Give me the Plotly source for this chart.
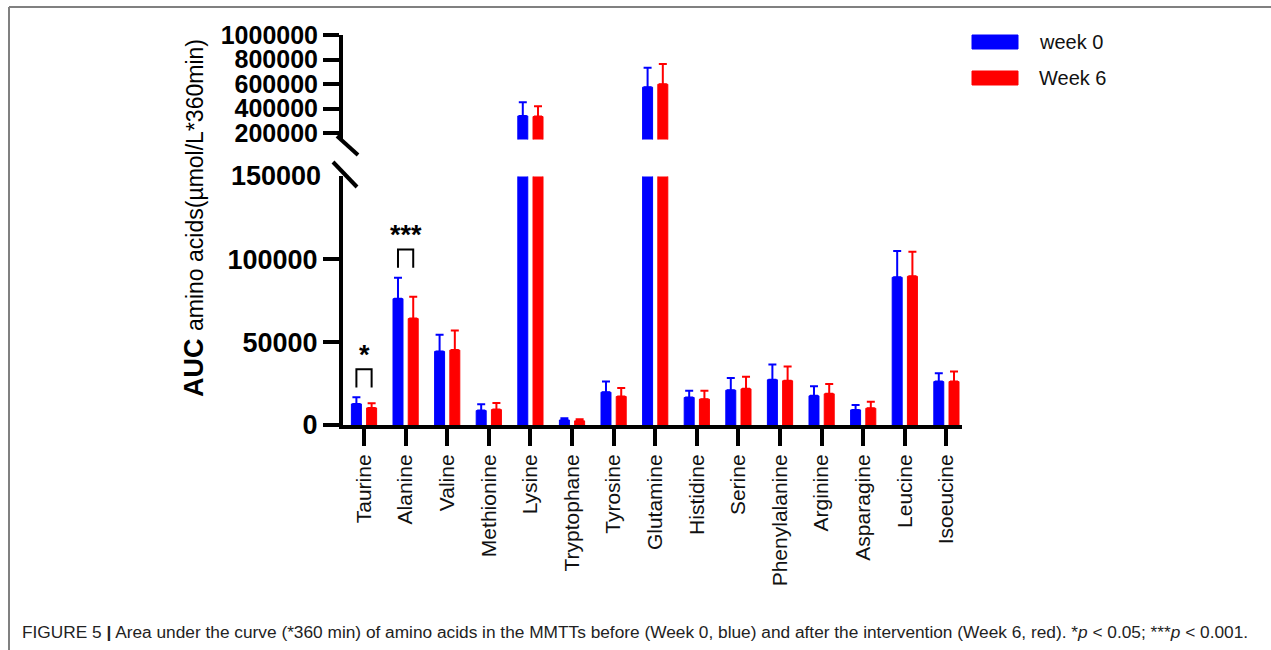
import plotly.graph_objects as go

# ---------------- data ----------------
categories = ["Taurine", "Alanine", "Valine", "Methionine", "Lysine", "Tryptophane",
              "Tyrosine", "Glutamine", "Histidine", "Serine", "Phenylalanine",
              "Arginine", "Asparagine", "Leucine", "Isoeucine"]
week0_mean = [12700, 76200, 44400, 8700, 341000, 3000, 19800, 575000,
              16600, 21000, 27300, 17600, 9100, 89100, 26200]
week0_sd = [4000, 12700, 10100, 3800, 112000, 1000, 6400, 159000,
            4000, 7300, 9200, 5800, 3000, 15900, 5100]
week6_mean = [10300, 64200, 45200, 9300, 336000, 2500, 17200, 599000,
              15600, 21800, 26700, 18800, 10100, 89700, 26200]
week6_sd = [2800, 13200, 11800, 4000, 84000, 1000, 5200, 165000,
            5000, 7300, 8600, 5900, 4000, 14800, 6100]
series_names = ["week 0", "Week 6"]
lower_ticks = [0, 50000, 100000]
break_value = 150000
upper_ticks = [200000, 400000, 600000, 800000, 1000000]
upper_max = 1000000
significance = [("Taurine", "*"), ("Alanine", "***")]

# ---------------- geometry / style ----------------
W, H = 1271, 650
L, R, T, B = 343, 962, 35, 425
BLUE, RED = "#0000FF", "#FF0000"
FONT = "Liberation Sans, Arial, sans-serif"
BAR_W = 0.24
HALF_OFF = 0.183


def px(x):
    return (x - L) / (R - L)


def py(y):
    return (B - y) / (B - T)


lower_top_frac = py(176.4)
upper_bot_frac = py(139.4)

fig = go.Figure()
for name, means, sds, color, off in [
    (series_names[0], week0_mean, week0_sd, BLUE, -HALF_OFF),
    (series_names[1], week6_mean, week6_sd, RED, HALF_OFF),
]:
    for yax in ["y", "y2"]:
        fig.add_trace(go.Bar(
            x=categories, y=means, name=name, yaxis=yax,
            width=BAR_W, offset=off - BAR_W / 2,
            marker=dict(color=color, line=dict(color=color, width=1)),
            error_y=dict(type="data", array=sds, arrayminus=[0] * len(sds),
                         symmetric=False, color=color, thickness=2, width=4),
            showlegend=False, cliponaxis=True,
        ))

fig.update_layout(
    width=W, height=H, barmode="overlay",
    margin=dict(l=L, r=W - R, t=T, b=H - B),
    paper_bgcolor="white", plot_bgcolor="white",
    font=dict(family=FONT, color="black"),
    xaxis=dict(
        range=[-0.505, 14.375], type="category",
        showline=True, linecolor="black", linewidth=4,
        ticks="outside", ticklen=17, tickwidth=4, tickcolor="black",
        tickangle=-90, tickfont=dict(size=21, color="#111"),
        showgrid=False, zeroline=False, anchor="y",
    ),
    yaxis=dict(
        domain=[0, lower_top_frac], range=[0, break_value],
        tickvals=lower_ticks, ticktext=[str(v) for v in lower_ticks],
        showline=True, linecolor="black", linewidth=4,
        ticks="outside", ticklen=16, tickwidth=4, tickcolor="black",
        tickfont=dict(size=27, family=FONT, color="black", weight="bold"),
        showgrid=False, zeroline=False,
    ),
    yaxis2=dict(
        domain=[upper_bot_frac, 1], range=[break_value, upper_max],
        tickvals=upper_ticks, ticktext=[str(v) for v in upper_ticks],
        showline=True, linecolor="black", linewidth=4,
        ticks="outside", ticklen=16, tickwidth=4, tickcolor="black",
        tickfont=dict(size=25, family=FONT, color="black", weight="bold"),
        showgrid=False, zeroline=False, anchor="x",
    ),
)

shapes = []
annotations = []

# break marks
for (x0, y0, x1, y1) in [(337, 136, 358, 155), (333, 162, 357, 187)]:
    shapes.append(dict(type="line", xref="paper", yref="paper",
                       x0=px(x0), y0=py(y0), x1=px(x1), y1=py(y1),
                       line=dict(color="black", width=4)))
# label of the break value
annotations.append(dict(xref="paper", yref="y", x=px(323), y=break_value,
                        text=str(break_value), showarrow=False, xanchor="right",
                        yanchor="middle",
                        font=dict(size=27, family=FONT, color="black", weight="bold")))

# significance brackets
for cat, stars in significance:
    i = categories.index(cat)
    top = max(week0_mean[i] + week0_sd[i], week6_mean[i] + week6_sd[i])
    base = top + 6000
    peak = base + 11000
    x0, x1 = i - HALF_OFF, i + HALF_OFF
    shapes.append(dict(type="path", xref="x", yref="y",
                       path=f"M {x0},{base} L {x0},{peak} L {x1},{peak} L {x1},{base}",
                       line=dict(color="black", width=2)))
    annotations.append(dict(xref="x", yref="y", x=i, y=peak, text=f"<b>{stars}</b>",
                            showarrow=False, xanchor="center", yanchor="bottom",
                            yshift=-3, font=dict(size=27, family=FONT, color="black")))

# legend (custom swatches)
for (name, color, ytop) in [(series_names[0], BLUE, 35), (series_names[1], RED, 71)]:
    shapes.append(dict(type="rect", xref="paper", yref="paper",
                       x0=px(972), x1=px(1018), y0=py(ytop), y1=py(ytop + 14),
                       fillcolor=color, line=dict(color=color, width=1)))
    annotations.append(dict(xref="paper", yref="paper", x=px(1037), y=py(ytop + 7),
                            text=name, showarrow=False, xanchor="left", yanchor="middle",
                            font=dict(size=20, family=FONT, color="#111")))

# y axis title
annotations.append(dict(
    xref="paper", yref="paper", x=px(194), y=py(218), textangle=-90,
    text="<b>AUC</b> <span style='font-size:23px'>amino acids(µmol/L*360min)</span>",
    showarrow=False, xanchor="center", yanchor="middle",
    font=dict(size=27, family=FONT, color="black")))

# caption
annotations.append(dict(
    xref="paper", yref="paper", x=px(20), y=py(632),
    text=("FIGURE 5 <b>|</b> Area under the curve (*360 min) of amino acids in the MMTTs "
          "before (Week 0, blue) and after the intervention (Week 6, red). "
          "*<i>p</i> &lt; 0.05; ***<i>p</i> &lt; 0.001."),
    showarrow=False, xanchor="left", yanchor="middle",
    font=dict(size=17.3, family=FONT, color="#222")))

# frame lines
for (x0, y0, x1, y1) in [(9, 7, 1271, 7), (9, 7, 9, 650)]:
    shapes.append(dict(type="line", xref="paper", yref="paper",
                       x0=px(x0), y0=py(y0), x1=px(x1), y1=py(y1),
                       line=dict(color="#808080", width=2)))

fig.update_layout(shapes=shapes, annotations=annotations)
fig.write_html("out.html")
